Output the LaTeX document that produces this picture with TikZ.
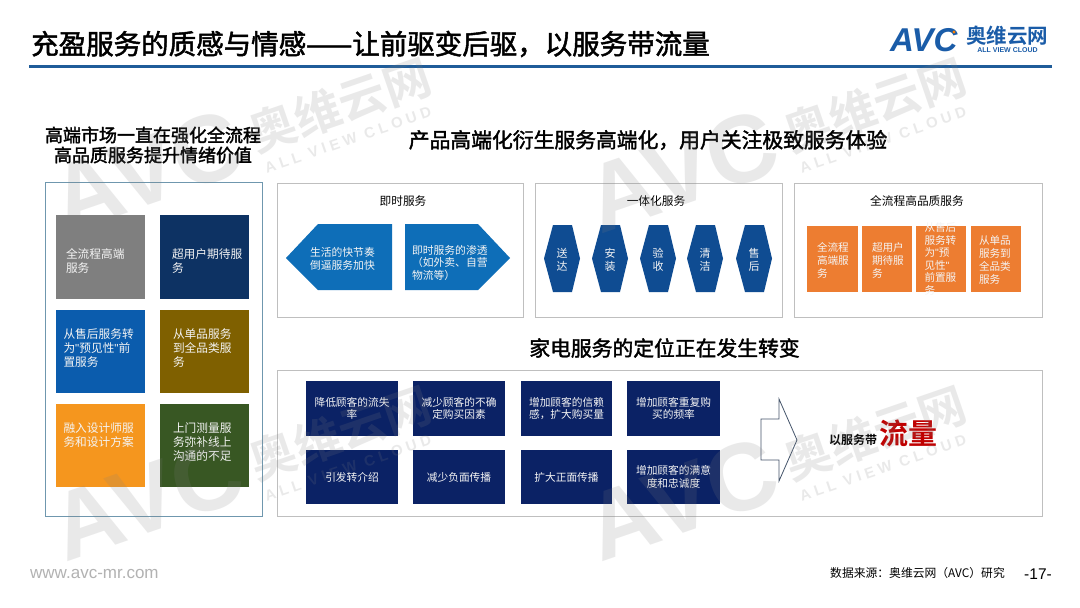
\documentclass[tikz,border=0pt]{standalone}
\usepackage{fontspec}
\setmainfont{Noto Sans CJK SC}[BoldFont={Noto Sans CJK SC Bold}]
\newfontfamily\lib{Liberation Sans}
\newfontfamily\medf{Noto Sans CJK SC}[FakeBold=1.8]
\definecolor{rulec}{HTML}{1F5C99}
\definecolor{logoc}{HTML}{1A5CA8}
\definecolor{panelc}{HTML}{BFBFBF}
\definecolor{framec}{HTML}{6F97AE}
\definecolor{midblue}{HTML}{0E6EB8}
\definecolor{hexblue}{HTML}{0F4C92}
\definecolor{oranged}{HTML}{ED7D31}
\definecolor{navyd}{HTML}{0B2265}
\definecolor{softw}{HTML}{F4F4F4}
\newcommand{\fs}[2]{\fontsize{#1}{#2}\selectfont}
\newcommand{\qq}{{\lib"}}
\newcommand{\bx}[6]{\node[boxn,#6,minimum width={(#4-#2)*1pt},minimum height={(#5-#3)*1pt}] (#1) at ({(#2+#4)/2},{(#3+#5)/2}) {};}
\newcommand{\wmk}[3]{%
  \node[wmark,font=\lib\bfseries\fs{96}{96}] (wa#1) at (#2-193,#3+66) {AVC};
  \node[wmark,font=\bfseries\fs{47}{47}] (wb#1) at (#2,#3) {奥维云网};
  \node[wmark,font=\lib\bfseries\fs{15}{15}] (wc#1) at (#2+8,#3+35) {A L L\ \ V I E W\ \ C L O U D};
}
\tikzset{
  boxn/.style={rectangle,inner sep=0pt,outer sep=0pt,draw=none},
  panel/.style={boxn,fill=white,draw=panelc,line width=.8pt},
  wt/.style={inner sep=0pt,outer sep=0pt,text=softw,align=left,anchor=west,font=\fs{11.7}{14}},
  wc/.style={inner sep=0pt,outer sep=0pt,text=softw,align=center,font=\fs{11}{12.8}},
  head/.style={inner sep=0pt,outer sep=0pt,text=black,align=center,font=\medf\fs{20.8}{24}},
  wmark/.style={inner sep=0pt,rotate=19,text=gray,text opacity=.17},
}
\begin{document}
\begin{tikzpicture}[x=1pt,y=-1pt]
\useasboundingbox (0,0) rectangle (1080,608);
\fill[white] (0,0) rectangle (1080,608);

% header
\node[inner sep=0pt,anchor=west,font=\medf\fs{27.5}{30}] (title) at (31,44) {充盈服务的质感与情感——让前驱变后驱，以服务带流量};
\coordinate (rl) at (29,66.5);
\coordinate (rr) at (1052,66.5);
\draw[rulec,line width=2.4pt] (rl) -- (rr);
\node[inner sep=0pt,anchor=west,text=logoc,font=\lib\bfseries\itshape\fs{33}{33}] (logoA) at (890,40) {AVC};
\fill[orange] (954,32) circle (1.7);
\node[inner sep=0pt,text=logoc,font=\bfseries\fs{20.5}{21}] (logoB) at (1007,35.5) {奥维云网};
\node[inner sep=0pt,text=logoc,font=\lib\bfseries\fs{7}{7}] (logoC) at (1007.5,50) {ALL VIEW CLOUD};

% left column
\node[inner sep=0pt,align=center,font=\medf\fs{18}{20}] (lhead) at (153,145) {高端市场一直在强化全流程\\高品质服务提升情绪价值};
\bx{lframe}{45}{182}{262}{516}{fill=white,draw=framec,line width=.9pt}
\bx{l1}{56}{215}{145}{299}{fill={rgb,255:red,127;green,127;blue,127}}
\bx{l2}{160}{215}{249}{299}{fill={rgb,255:red,13;green,50;blue,99}}
\bx{l3}{56}{310}{145}{393}{fill={rgb,255:red,11;green,92;blue,173}}
\bx{l4}{160}{310}{249}{393}{fill={rgb,255:red,127;green,96;blue,0}}
\bx{l5}{56}{404}{145}{487}{fill={rgb,255:red,245;green,150;blue,30}}
\bx{l6}{160}{404}{249}{487}{fill={rgb,255:red,56;green,87;blue,35}}
\node[wt] (lt1) at (66,261) {全流程高端\\服务};
\node[wt] (lt2) at (172,261) {超用户期待服\\务};
\node[wt] (lt3) at (63.5,348) {从售后服务转\\为\qq 预见性\qq 前\\置服务};
\node[wt] (lt4) at (173,348) {从单品服务\\到全品类服\\务};
\node[wt] (lt5) at (63.5,435) {融入设计师服\\务和设计方案};
\node[wt] (lt6) at (173,442) {上门测量服\\务弥补线上\\沟通的不足};

% right top
\node[head] (rhead) at (648,140) {产品高端化衍生服务高端化，用户关注极致服务体验};
\bx{p1}{277}{183}{523}{317}{panel}
\bx{p2}{535}{183}{782}{317}{panel}
\bx{p3}{794}{183}{1042}{317}{panel}
\node[inner sep=0pt,font=\fs{11.7}{14}] (p1t) at (403,201) {即时服务};
\node[inner sep=0pt,font=\fs{11.7}{14}] (p2t) at (656,201) {一体化服务};
\node[inner sep=0pt,font=\fs{11.7}{14}] (p3t) at (917,201) {全流程高品质服务};

\fill[midblue] (286,258) -- (318,224) -- (392,224) -- (392,290) -- (318,290) -- cycle;
\fill[midblue] (405,224) -- (478,224) -- (510,258) -- (478,290) -- (405,290) -- cycle;
\node[wt,font=\fs{10.8}{13}] (pa) at (310,258.5) {生活的快节奏\\倒逼服务加快};
\node[wt,font=\fs{10.8}{12.5}] (pb) at (412,262.5) {即时服务的渗透\\（如外卖、自营\\物流等）};

\foreach \n/\a/\t in {1/544/送\\达,2/592/安\\装,3/640/验\\收,4/687/清\\洁,5/736/售\\后}{
  \fill[hexblue] (\a,258.5) -- (\a+9,225) -- (\a+28,225) -- (\a+36,258.5) -- (\a+28,292) -- (\a+9,292) -- cycle;
  \node[wc] (hx\n) at (\a+18,259.5) {\t};
}

\bx{o1}{807}{226}{858}{292}{fill=oranged}
\bx{o2}{862}{226}{912}{292}{fill=oranged}
\bx{o3}{916}{226}{966}{292}{fill=oranged}
\bx{o4}{971}{226}{1021}{292}{fill=oranged}
\node[wt,font=\fs{10.6}{13}] (ot1) at (817,260) {全流程\\高端服\\务};
\node[wt,font=\fs{10.6}{13}] (ot2) at (872,260) {超用户\\期待服\\务};
\node[wt,font=\fs{10.6}{12.6}] (ot3) at (924.5,259) {从售后\\服务转\\为\qq 预\\见性\qq\\前置服\\务};
\node[wt,font=\fs{10.6}{12.8}] (ot4) at (979,260) {从单品\\服务到\\全品类\\服务};

% right bottom
\node[head] (bhead) at (664.5,348) {家电服务的定位正在发生转变};
\bx{q}{277}{370}{1042}{516}{panel}
\foreach \n/\a/\b in {1/306/398,2/413/505,3/521/612,4/627/720}{
  \bx{na\n}{\a}{381}{\b}{436}{fill=navyd}
  \bx{nb\n}{\a}{450}{\b}{504}{fill=navyd}
}
\tikzset{nt/.style={wc,font=\fs{10.7}{12.6}}}
\node[nt] (nta1) at (na1) {降低顾客的流失\\率};
\node[nt] (nta2) at (na2) {减少顾客的不确\\定购买因素};
\node[nt] (nta3) at (na3) {增加顾客的信赖\\感，扩大购买量};
\node[nt] (nta4) at (na4) {增加顾客重复购\\买的频率};
\node[nt] (ntb1) at (nb1) {引发转介绍};
\node[nt] (ntb2) at (nb2) {减少负面传播};
\node[nt] (ntb3) at (nb3) {扩大正面传播};
\node[nt] (ntb4) at (nb4) {增加顾客的满意\\度和忠诚度};

\draw[draw={rgb,255:red,68;green,84;blue,106},line width=.8pt,fill=white] (761,419) -- (779,419) -- (779,399) -- (797,440) -- (779,481) -- (779,460) -- (761,460) -- cycle;
\node[inner sep=0pt,anchor=west,font=\bfseries\fs{12}{14}] (fa) at (829,440) {以服务带};
\node[inner sep=0pt,anchor=west,text={rgb,255:red,192;green,0;blue,0},font=\bfseries\fs{29}{30}] (fb) at (879,433) {流量};

% footer
\node[inner sep=0pt,anchor=west,text=gray!60,font=\lib\fs{17}{18}] (web) at (30,574) {www.avc-mr.com};
\node[inner sep=0pt,anchor=east,font=\fs{11.8}{14}] (src) at (1005,573) {数据来源：奥维云网（AVC）研究};
\node[inner sep=0pt,anchor=east,font=\lib\fs{15.5}{16}] (pg) at (1052,574) {-17-};

% watermarks
\wmk{1}{340}{105}
\wmk{2}{875}{105}
\wmk{3}{340}{433}
\wmk{4}{875}{433}
\end{tikzpicture}
\end{document}
